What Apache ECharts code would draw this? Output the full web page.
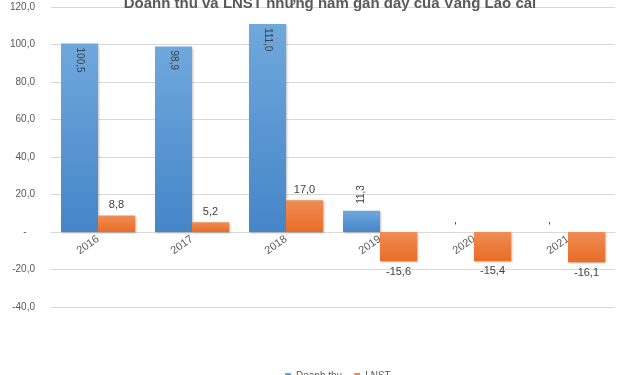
<!DOCTYPE html>
<html>
<head>
<meta charset="utf-8">
<script src="https://cdn.jsdelivr.net/npm/echarts@6/dist/echarts.min.js"></script>
<style>html,body{margin:0;padding:0;background:#fff;}#c{width:640px;height:375px;}</style>
</head>
<body>
<div id="c"></div>
<script>
var categories = ['2016', '2017', '2018', '2019', '2020', '2021'];
var doanhThu = [100.5, 98.9, 111.0, 11.3, 0, 0];
var lnst = [8.8, 5.2, 17.0, -15.6, -15.4, -16.1];
var yTicks = [-40, -20, 0, 20, 40, 60, 80, 100, 120];

function fmt(v) { return v === 0 ? '-' : v.toFixed(1).replace('.', ','); }

var chart = echarts.init(document.getElementById('c'));

var dtData = doanhThu.map(function (v) {
  var big = v > 30;
  return {
    value: v,
    label: big ? { position: 'insideTop', rotate: -90, align: 'left', verticalAlign: 'middle', distance: 4 }
               : { position: 'top', rotate: 90, align: 'left', verticalAlign: 'middle', distance: 7 }
  };
});
var lnData = lnst.map(function (v) {
  return { value: v, label: { position: v >= 0 ? 'top' : 'bottom', distance: 5 } };
});

chart.setOption({
  animation: false,
  title: {
    text: 'Doanh thu và LNST những năm gần đây của Vàng Lào cai',
    left: 325, top: -9, textAlign: 'center',
    textStyle: { fontFamily: 'Liberation Sans, Arial', fontSize: 15, fontWeight: 'bold', color: '#595959' }
  },
  legend: {
    data: ['Doanh thu', 'LNST'],
    left: 280, top: 366, itemWidth: 6, itemHeight: 6, itemGap: 12,
    icon: 'rect',
    textStyle: { fontFamily: 'Liberation Sans, Arial', fontSize: 10, color: '#595959' }
  },
  grid: { left: 51, right: 25, top: 7, bottom: 68, containLabel: false },
  xAxis: {
    type: 'category',
    data: categories,
    offset: -75,
    axisLine: { onZero: false, lineStyle: { color: '#d9d9d9', width: 1 } },
    axisTick: { show: false },
    axisLabel: { rotate: 35, margin: 6, color: '#595959', fontSize: 11, fontFamily: 'Liberation Sans, Arial' },
    z: 1
  },
  yAxis: {
    type: 'value',
    min: -40, max: 120, interval: 20,
    axisLine: { show: false },
    axisTick: { show: false },
    splitLine: { lineStyle: { color: '#d9d9d9', width: 1 } },
    axisLabel: {
      margin: 16, color: '#595959', fontSize: 10, fontFamily: 'Liberation Sans, Arial',
      formatter: function (v) { return v === 0 ? '-   ' : fmt(v); }
    }
  },
  series: [
    {
      name: 'Doanh thu', type: 'bar', barWidth: 37, barGap: '0%', z: 3,
      data: dtData,
      itemStyle: {
        color: new echarts.graphic.LinearGradient(0, 0, 0, 1, [
          { offset: 0, color: '#6fa8dc' }, { offset: 1, color: '#4586c8' }
        ]),
        shadowBlur: 2, shadowOffsetX: 1, shadowOffsetY: 1, shadowColor: 'rgba(0,0,0,0.25)'
      },
      label: {
        show: true, color: '#404040', fontSize: 10, fontFamily: 'Liberation Sans, Arial',
        formatter: function (p) { return fmt(p.value); }
      }
    },
    {
      name: 'LNST', type: 'bar', barWidth: 37, barGap: '0%', z: 3,
      data: lnData,
      itemStyle: {
        color: new echarts.graphic.LinearGradient(0, 0, 0, 1, [
          { offset: 0, color: '#f08c55' }, { offset: 1, color: '#e96d25' }
        ]),
        shadowBlur: 2, shadowOffsetX: 1, shadowOffsetY: 1, shadowColor: 'rgba(0,0,0,0.3)'
      },
      label: {
        show: true, color: '#404040', fontSize: 11, fontFamily: 'Liberation Sans, Arial',
        formatter: function (p) { return fmt(p.value); }
      }
    }
  ]
});
</script>
</body>
</html>
